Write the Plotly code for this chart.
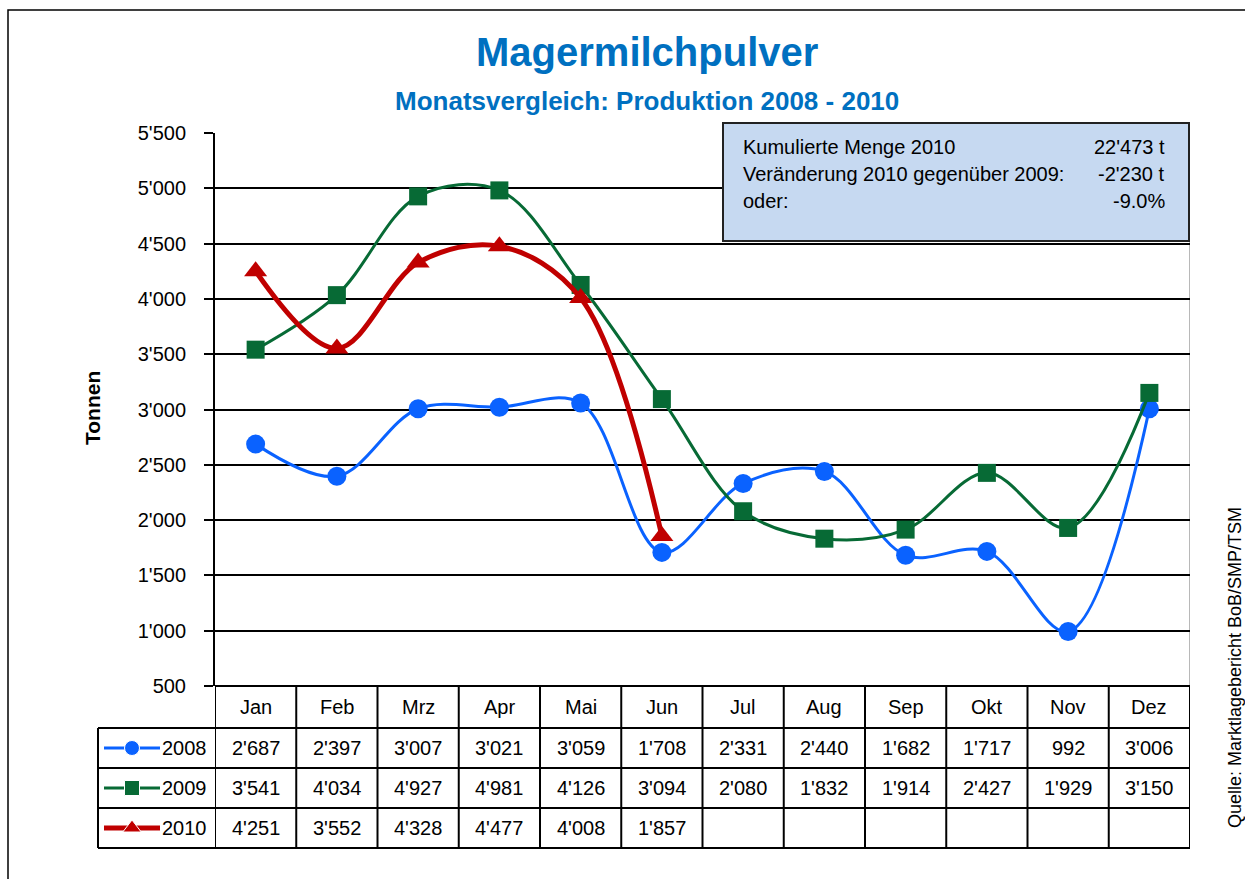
import plotly.graph_objects as go

months = ["Jan", "Feb", "Mrz", "Apr", "Mai", "Jun", "Jul", "Aug", "Sep", "Okt", "Nov", "Dez"]
years = ["2008", "2009", "2010"]
v2008 = [2687, 2397, 3007, 3021, 3059, 1708, 2331, 2440, 1682, 1717, 992, 3006]
v2009 = [3541, 4034, 4927, 4981, 4126, 3094, 2080, 1832, 1914, 2427, 1929, 3150]
v2010 = [4251, 3552, 4328, 4477, 4008, 1857]
y_ticks = [500, 1000, 1500, 2000, 2500, 3000, 3500, 4000, 4500, 5000, 5500]
info_labels = ["Kumulierte Menge 2010", "Veränderung 2010 gegenüber 2009:", "oder:"]
info_values = ["22'473 t", "-2'230 t", "-9.0%"]

W, H = 1245, 879
colors = ["#0A62FF", "#076A35", "#C00000"]
symbols = ["circle", "square", "triangle-up"]
widths = [3, 3, 5]
msizes = [19, 18, 20]
series = [v2008, v2009, v2010]

NARROW = "Liberation Sans Narrow, Arial Narrow, Liberation Sans, Arial"
REG = "Liberation Sans, Arial"

def px(x):
    return x / W

def py(y):
    return 1 - y / H

PL, PR, PT, PB = 215, 1190, 133, 686

def fmt(v):
    return f"{v:,}".replace(",", "'")

fig = go.Figure()
for name, vals, c, s, w, ms in zip(years, series, colors, symbols, widths, msizes):
    fig.add_trace(go.Scatter(
        x=months[:len(vals)], y=vals, name=name, mode="lines+markers",
        line=dict(color=c, width=w, shape="spline", smoothing=1.0),
        marker=dict(symbol=s, size=ms, color=c),
        showlegend=False, xaxis="x", yaxis="y"))

shapes = []
annotations = []

def ann(x, y, text, size, family=NARROW, xref="paper", xanchor="center", color="black", angle=0):
    annotations.append(dict(x=x, y=y, xref=xref, yref="paper", text=text, showarrow=False,
                            xanchor=xanchor, yanchor="middle", textangle=angle,
                            font=dict(family=family, size=size, color=color)))

# outer border
shapes.append(dict(type="rect", xref="paper", yref="paper", x0=px(8), x1=px(1260),
                   y0=py(900), y1=py(10), line=dict(color="black", width=1.5)))

# plot-area right border (grey)
shapes.append(dict(type="line", xref="x", yref="y", x0=11.5, x1=11.5, y0=y_ticks[0], y1=y_ticks[-1],
                   line=dict(color="#A0A0A0", width=1.5), layer="below"))

# table geometry
row_lines = [686, 728, 768, 808, 848]
shapes.append(dict(type="line", xref="paper", yref="paper", x0=px(PL), x1=px(PR),
                   y0=py(row_lines[0]), y1=py(row_lines[0]), line=dict(color="black", width=2)))
for yl in row_lines[1:]:
    shapes.append(dict(type="line", xref="paper", yref="paper", x0=px(98), x1=px(PR),
                       y0=py(yl), y1=py(yl), line=dict(color="black", width=2)))
for i in range(len(months) + 1):
    shapes.append(dict(type="line", xref="x", yref="paper", x0=i - 0.5, x1=i - 0.5,
                       y0=py(row_lines[-1]), y1=py(row_lines[0]), line=dict(color="black", width=2)))
shapes.append(dict(type="line", xref="paper", yref="paper", x0=px(98), x1=px(98),
                   y0=py(row_lines[-1]), y1=py(row_lines[1]), line=dict(color="black", width=2)))

for i, m in enumerate(months):
    ann(i, py((row_lines[0] + row_lines[1]) / 2), m, 20, xref="x")
for r, vals in enumerate(series):
    yc = py((row_lines[r + 1] + row_lines[r + 2]) / 2)
    for i, v in enumerate(vals):
        ann(i, yc, fmt(v), 20, xref="x")
    ann(px(209), yc, years[r], 20, xanchor="right")
    shapes.append(dict(type="line", xref="paper", yref="paper", x0=px(104), x1=px(160),
                       y0=yc, y1=yc, line=dict(color=colors[r], width=widths[r]), layer="below"))

# legend markers in table (overlay axis in pixel units)
fig.add_trace(go.Scatter(
    x=[132, 132, 132],
    y=[(row_lines[1] + row_lines[2]) / 2, (row_lines[2] + row_lines[3]) / 2, (row_lines[3] + row_lines[4]) / 2],
    mode="markers", marker=dict(symbol=symbols, size=[15, 15, 16], color=colors, opacity=1),
    showlegend=False, xaxis="x2", yaxis="y2", hoverinfo="skip"))

# info box
shapes.append(dict(type="rect", xref="paper", yref="paper", x0=px(723), x1=px(1189),
                   y0=py(241), y1=py(123), fillcolor="#C6D9F1", line=dict(color="#222", width=2),
                   layer="above"))
for k, (lab, val) in enumerate(zip(info_labels, info_values)):
    yy = py(147 + k * 27)
    ann(px(741), yy, lab, 20, xanchor="left")
    ann(px(1167), yy, val, 20, xanchor="right")

ann(px(647), py(52), "<b>Magermilchpulver</b>", 40, color="#0070C0")
ann(px(647), py(101), "<b>Monatsvergleich: Produktion 2008 - 2010</b>", 26, color="#0070C0")
ann(px(92), py(408), "<b>Tonnen</b>", 21, family=REG, angle=-90)
ann(px(1235), py(668), "Quelle: Marktlagebericht BoB/SMP/TSM", 18, angle=-90)

fig.update_layout(
    width=W, height=H, margin=dict(l=0, r=0, t=0, b=0, autoexpand=False),
    paper_bgcolor="white", plot_bgcolor="rgba(0,0,0,0)",
    separators=".'",
    xaxis=dict(domain=[px(PL), px(PR)], range=[-0.5, 11.5], showticklabels=False, showgrid=False,
               zeroline=False, showline=False, ticks="", fixedrange=True, automargin=False),
    yaxis=dict(domain=[py(PB), py(PT)], range=[500, 5500], tickvals=y_ticks, tickformat=",d",
               showgrid=True, gridcolor="black", gridwidth=1.5, showline=True, linecolor="black",
               linewidth=2, ticks="outside", ticklen=9, tickcolor="black", tickwidth=1.5,
               zeroline=False, tickfont=dict(family=REG, size=20, color="black"), ticklabelstandoff=14,
               fixedrange=True, automargin=False),
    xaxis2=dict(domain=[0, 1], range=[0, W], visible=False, fixedrange=True, anchor="y2", automargin=False),
    yaxis2=dict(domain=[0, 1], range=[H, 0], visible=False, fixedrange=True, anchor="x2", automargin=False),
    shapes=shapes, annotations=annotations,
)
fig.write_html("out.html", post_script="document.body.style.margin='0';",
               config={"displayModeBar": False})
